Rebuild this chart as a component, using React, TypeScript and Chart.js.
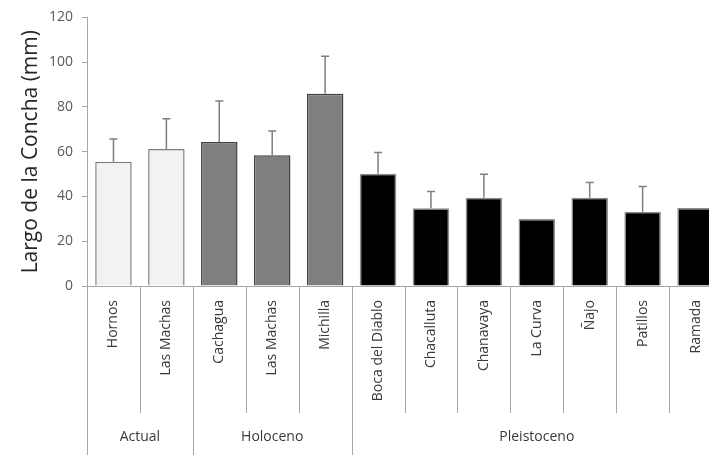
import React, { useEffect, useRef } from "react";
import { Chart, registerables } from "chart.js";

Chart.register(...registerables);

// Sites (categories) and their period group
const sites = [
  "Hornos", "Las Machas",
  "Cachagua", "Las Machas", "Michilla",
  "Boca del Diablo", "Chacalluta", "Chanavaya", "La Curva", "Ñajo", "Patillos", "Ramada",
];
const periods = ["Actual", "Holoceno", "Pleistoceno"];
const periodSizes = [2, 3, 7];

// Mean shell length (mm) and standard deviation (upper whisker only)
const meanLength = [55.5, 61.2, 64.3, 58.4, 85.9, 50.1, 34.7, 39.4, 29.9, 39.4, 33.2, 34.9];
const sdLength = [10.2, 13.5, 18.3, 10.9, 16.7, 9.5, 7.5, 10.5, 0, 6.8, 11.2, 0];

const yTicks = { min: 0, max: 120, step: 20 };

const periodFill = ["#f2f2f2", "#7f7f7f", "#000000"];
const periodBorder = ["#7f7f7f", "#404040", "#8c8c8c"];

function siteColors(palette: string[]) {
  const out: string[] = [];
  periodSizes.forEach((n, g) => {
    for (let i = 0; i < n; i++) out.push(palette[g]);
  });
  return out;
}

const FONT = "'Open Sans', Lato, sans-serif";
const TEXT = "#3a3a3a";
const LINE = "#a6a6a6";

const errorBars = {
  id: "errorBars",
  afterDatasetsDraw(chart: any) {
    const meta = chart.getDatasetMeta(0);
    const y = chart.scales.y;
    const ctx = chart.ctx;
    ctx.save();
    ctx.strokeStyle = "#7f7f7f";
    ctx.lineWidth = 1.5;
    meta.data.forEach((bar: any, i: number) => {
      const sd = sdLength[i];
      if (!sd) return;
      const top = y.getPixelForValue(meanLength[i] + sd);
      const base = y.getPixelForValue(meanLength[i]);
      ctx.beginPath();
      ctx.moveTo(bar.x, base);
      ctx.lineTo(bar.x, top);
      ctx.moveTo(bar.x - 4, top);
      ctx.lineTo(bar.x + 4, top);
      ctx.stroke();
    });
    ctx.restore();
  },
};

const groupAxis = {
  id: "groupAxis",
  afterDraw(chart: any) {
    const x = chart.scales.x;
    const area = chart.chartArea;
    const ctx = chart.ctx;
    const half = (x.getPixelForValue(1) - x.getPixelForValue(0)) / 2;
    const edge = (i: number) => x.getPixelForValue(i) - half;
    const groupStarts = new Set<number>();
    let acc = 0;
    periodSizes.forEach((n) => {
      groupStarts.add(acc);
      acc += n;
    });
    groupStarts.add(acc);

    ctx.save();
    ctx.strokeStyle = LINE;
    ctx.lineWidth = 1;
    for (let i = 0; i <= sites.length; i++) {
      const px = Math.round(edge(i)) + 0.5;
      const bottom = groupStarts.has(i) ? area.bottom + 169 : area.bottom + 127;
      ctx.beginPath();
      ctx.moveTo(px, area.bottom);
      ctx.lineTo(px, bottom);
      ctx.stroke();
    }

    ctx.fillStyle = TEXT;
    ctx.font = `14px ${FONT}`;
    ctx.textAlign = "center";
    ctx.textBaseline = "middle";
    let start = 0;
    periods.forEach((name, g) => {
      const n = periodSizes[g];
      const cx = (edge(start) + edge(start + n)) / 2;
      ctx.fillText(name, cx, area.bottom + 151);
      start += n;
    });
    ctx.restore();
  },
};

export default function App() {
  const ref = useRef<HTMLCanvasElement>(null);

  useEffect(() => {
    if (!ref.current) return;
    const chart = new Chart(ref.current, {
      type: "bar",
      data: {
        labels: sites,
        datasets: [
          {
            data: meanLength,
            backgroundColor: siteColors(periodFill),
            borderColor: siteColors(periodBorder),
            borderWidth: 1.5,
            barPercentage: 0.69,
            categoryPercentage: 1,
          },
        ],
      },
      options: {
        responsive: false,
        animation: false,
        layout: { padding: { left: 0, right: 8, top: 14, bottom: 0 } },
        plugins: { legend: { display: false }, tooltip: { enabled: false } },
        scales: {
          x: {
            grid: { display: false },
            border: { display: true, color: LINE, width: 1 },
            ticks: {
              autoSkip: false,
              minRotation: 90,
              maxRotation: 90,
              padding: 6,
              color: TEXT,
              font: { family: FONT, size: 14 },
            },
            afterFit(scale: any) {
              scale.height = 172;
            },
          },
          y: {
            min: yTicks.min,
            max: yTicks.max,
            ticks: {
              stepSize: yTicks.step,
              padding: 9,
              color: "#595959",
              font: { family: FONT, size: 14 },
            },
            grid: { drawOnChartArea: false, drawTicks: true, tickLength: 5, color: LINE },
            border: { display: true, color: LINE, width: 1 },
            title: {
              display: true,
              text: "Largo de la Concha (mm)",
              color: "#262626",
              font: { family: FONT, size: 21 },
              padding: { top: 18, bottom: 0 },
            },
            afterFit(scale: any) {
              scale.width = 87;
            },
          },
        },
      },
      plugins: [errorBars, groupAxis],
    });
    return () => chart.destroy();
  }, []);

  return (
    <div style={{ position: "absolute", left: 0, top: 0, width: 709, height: 458, overflow: "hidden", background: "#fff" }}>
      <canvas ref={ref} width={730} height={458} />
    </div>
  );
}
